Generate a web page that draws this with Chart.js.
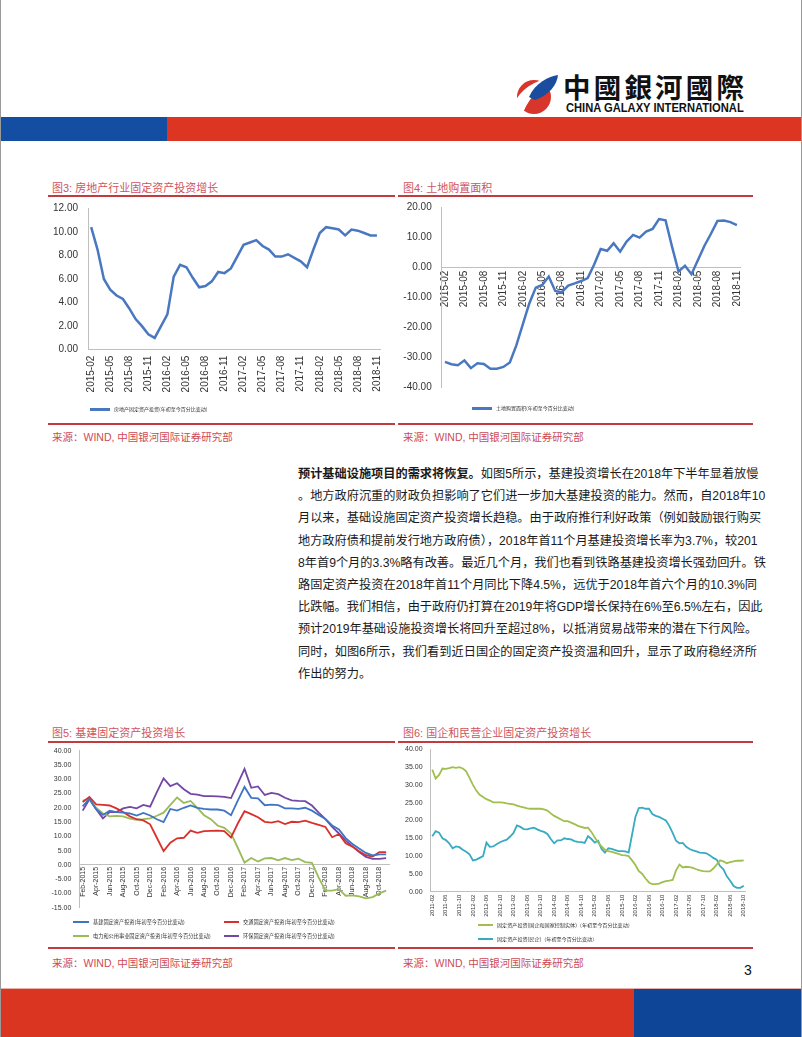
<!DOCTYPE html>
<html>
<head>
<meta charset="utf-8">
<script src="https://cdn.jsdelivr.net/npm/chart.js@4.4.1/dist/chart.umd.min.js"></script>
<style>
  body { margin: 0; background: #fff; }
  #page { position: relative; width: 802px; height: 1037px; overflow: hidden; background: #fff;
          font-family: "Liberation Sans", "Noto Sans CJK SC", sans-serif; }
  canvas { position: absolute; }
  .abs { position: absolute; white-space: nowrap; }
  .rule { position: absolute; height: 2px; background: #c23b3e; }
  .ttl { position: absolute; font-size: 11px; line-height: 14px; color: #cf5560; white-space: nowrap; }
  .src { position: absolute; font-size: 10.5px; line-height: 14px; color: #cc4b55; white-space: nowrap; }
  .lgline { position: absolute; height: 2px; }
  .lgtxt { position: absolute; font-family: "Noto Sans CJK SC", sans-serif; color: #333; white-space: nowrap; line-height: 8px; }
  #para { position: absolute; left: 298px; top: 463px; width: 459px; font-size: 12.2px; color: #1a1a1a; }
  #para div { height: 22.2px; line-height: 22.2px; white-space: nowrap; text-align: justify; text-align-last: justify; }
  #para div.last { text-align-last: left; }
</style>
</head>
<body>
<div id="page">
  <!-- header -->
  <div class="abs" style="left:0;top:0;width:1px;height:1037px;background:#9a9a9a"></div>
  <div class="abs" style="left:801px;top:0;width:1px;height:1037px;background:#9a9a9a"></div>
  <svg class="abs" style="left:513px;top:73px" width="46" height="44" viewBox="0 0 46 44">
    <circle cx="21" cy="24" r="17" fill="#d8352b"/>
    <path d="M2 30 C 8 14, 26 6, 44 3 C 32 12, 18 20, 10 40 Z" fill="#fff"/>
    <path d="M16 24 C 22 10, 36 3, 45 2 C 44 12, 36 22, 22 27 Z" fill="#1a4d9e"/>
  </svg>
  <div class="abs" style="left:563px;top:68px;font:bold 27.5px 'Noto Sans CJK TC';letter-spacing:3.2px;color:#111;line-height:36px">中國銀河國際</div>
  <div class="abs" style="left:566px;top:101px;font:bold 12px 'Liberation Sans';color:#111;transform:scaleX(0.93);transform-origin:0 0;line-height:14px">CHINA GALAXY INTERNATIONAL</div>
  <div class="abs" style="left:1px;top:117px;width:166px;height:24px;background:#134ea2"></div>
  <div class="abs" style="left:167px;top:117px;width:634px;height:24px;background:#dc3522"></div>

  <!-- chart 3 / 4 frames -->
  <div class="ttl" style="left:52px;top:181px">图3: 房地产行业固定资产投资增长</div>
  <div class="ttl" style="left:403px;top:181px">图4: 土地购置面积</div>
  <div class="rule" style="left:48px;top:195px;width:347px"></div>
  <div class="rule" style="left:398px;top:195px;width:355px"></div>
  <canvas id="c3"></canvas>
  <canvas id="c4"></canvas>
  <div id="lg3"></div>
  <div id="lg4"></div>
  <div class="rule" style="left:48px;top:423px;width:347px"></div>
  <div class="rule" style="left:398px;top:423px;width:355px"></div>
  <div class="src" style="left:52px;top:430px">来源：WIND, 中国银河国际证券研究部</div>
  <div class="src" style="left:403px;top:430px">来源：WIND, 中国银河国际证券研究部</div>

  <!-- body text -->
  <div id="para">
    <div><b>预计基础设施项目的需求将恢复。</b>如图5所示，基建投资增长在2018年下半年显着放慢</div>
    <div>。地方政府沉重的财政负担影响了它们进一步加大基建投资的能力。然而，自2018年10</div>
    <div>月以来，基础设施固定资产投资增长趋稳。由于政府推行利好政策（例如鼓励银行购买</div>
    <div>地方政府债和提前发行地方政府债），2018年首11个月基建投资增长率为3.7%，较201</div>
    <div>8年首9个月的3.3%略有改善。最近几个月，我们也看到铁路基建投资增长强劲回升。铁</div>
    <div>路固定资产投资在2018年首11个月同比下降4.5%，远优于2018年首六个月的10.3%同</div>
    <div>比跌幅。我们相信，由于政府仍打算在2019年将GDP增长保持在6%至6.5%左右，因此</div>
    <div>预计2019年基础设施投资增长将回升至超过8%，以抵消贸易战带来的潜在下行风险。</div>
    <div>同时，如图6所示，我们看到近日国企的固定资产投资温和回升，显示了政府稳经济所</div>
    <div class="last">作出的努力。</div>
  </div>

  <!-- chart 5 / 6 frames -->
  <div class="ttl" style="left:52px;top:726px">图5: 基建固定资产投资增长</div>
  <div class="ttl" style="left:403px;top:726px">图6: 国企和民营企业固定资产投资增长</div>
  <div class="rule" style="left:48px;top:741px;width:347px"></div>
  <div class="rule" style="left:398px;top:741px;width:355px"></div>
  <canvas id="c5"></canvas>
  <canvas id="c6"></canvas>
  <div id="lg5"></div>
  <div id="lg6"></div>
  <div class="rule" style="left:48px;top:947px;width:347px"></div>
  <div class="rule" style="left:398px;top:947px;width:355px"></div>
  <div class="src" style="left:52px;top:956px">来源：WIND, 中国银河国际证券研究部</div>
  <div class="src" style="left:403px;top:956px">来源：WIND, 中国银河国际证券研究部</div>
  <div class="abs" style="left:744px;top:962px;font-size:14px;color:#111">3</div>

  <!-- footer -->
  <div class="abs" style="left:1px;top:988px;width:800px;height:1px;background:#e8b0a8"></div>
  <div class="abs" style="left:1px;top:989px;width:633px;height:48px;background:#da3520"></div>
  <div class="abs" style="left:634px;top:989px;width:167px;height:48px;background:#0f4596"></div>
</div>

<script>
// ---- data ----
var MON = ['Jan', 'Feb', 'Mar', 'Apr', 'May', 'Jun', 'Jul', 'Aug', 'Sep', 'Oct', 'Nov', 'Dec'];
function monthList(y0, m0, y1, m1, en) {
    var out = [];
    var y = y0, m = m0;
    while (y < y1 || (y === y1 && m <= m1)) {
        out.push(en ? MON[m - 1] + '-' + y : y + '-' + (m < 10 ? '0' + m : m));
        m++;
        if (m > 12) { m = 1; y++; }
    }
    return out;
}

var months1518 = monthList(2015, 2, 2018, 11, false);
var months1518en = monthList(2015, 2, 2018, 11, true);
var months1118 = monthList(2011, 2, 2018, 10, false);

// 图3 房地产固定资产投资
var realEstate = [
    10.4, 8.5, 6.0, 5.1, 4.6, 4.3, 3.5, 2.6, 2.0, 1.3, 1.0,
    2.0, 3.0, 6.2, 7.2, 7.0, 6.1, 5.3, 5.4, 5.8, 6.6, 6.5, 6.9,
    7.9, 8.9, 9.1, 9.3, 8.8, 8.5, 7.9, 7.9, 8.1, 7.8, 7.5, 7.0,
    8.5, 9.9, 10.4, 10.3, 10.2, 9.7, 10.2, 10.1, 9.9, 9.7, 9.7
];

// 图4 土地购置面积
var landArea = [
    -31.5, -32.3, -32.6, -31.0, -33.6, -32.0, -32.2, -33.8, -33.8, -33.2, -31.7,
    -26.0, -19.0, -12.0, -6.7, -5.8, -3.0, -7.8, -8.2, -6.0, -5.3, -4.5, -3.5,
    1.0, 6.2, 5.6, 8.1, 5.3, 8.7, 10.9, 10.0, 12.0, 12.9, 16.2, 15.8,
    7.0, -1.3, 0.6, -2.2, 2.5, 7.3, 11.3, 15.6, 15.7, 15.2, 14.2
];

// 图5
var infraFAI = [
    20.5, 23.2, 19.5, 17.5, 19.0, 18.5, 18.3, 18.0, 17.3, 18.2, 17.3,
    16.0, 15.0, 19.6, 19.0, 20.0, 20.8, 20.0, 19.6, 19.4, 19.4, 19.0, 17.4,
    22.5, 27.3, 23.5, 23.3, 20.9, 21.1, 20.9, 19.8, 19.8, 19.6, 20.0, 19.0,
    17.5, 16.1, 13.8, 12.4, 9.4, 7.3, 5.7, 4.2, 3.3, 3.7, 3.7
];
var transportFAI = [
    22.0, 23.8, 21.2, 21.0, 20.8, 19.8, 18.5, 17.0, 16.0, 15.6, 14.2,
    9.5, 4.8, 7.8, 9.3, 9.5, 12.0, 11.2, 11.8, 11.9, 12.0, 11.8, 9.6,
    14.5, 18.8, 17.8, 16.7, 15.1, 14.8, 15.3, 14.3, 15.1, 15.0, 15.5, 14.7,
    14.0, 13.3, 9.7, 10.8, 7.6, 6.4, 4.8, 3.4, 2.9, 4.5, 4.5
];
var powerFAI = [
    22.5, 23.0, 20.0, 18.0, 17.0, 17.2, 17.0, 16.2, 15.8, 16.0, 16.3,
    17.2, 18.3, 21.0, 23.6, 21.7, 22.4, 20.0, 17.4, 16.0, 13.8, 13.0, 11.0,
    6.0, 0.8, 2.4, 1.2, 2.3, 2.4, 1.6, 2.4, 1.7, 2.2, 1.0, 0.7,
    -4.5, -9.0, -9.0, -8.5, -10.8, -10.7, -11.0, -11.7, -11.3, -10.0, -9.0
];
var envFAI = [
    19.0, 23.0, 19.5, 16.3, 18.5, 18.5, 19.8, 20.3, 19.8, 21.0, 20.4,
    25.5, 30.3, 27.6, 28.6, 26.5, 24.9, 24.6, 24.1, 24.1, 24.0, 23.8, 23.4,
    28.5, 33.6, 27.0, 27.5, 24.5, 25.2, 24.8, 23.5, 22.6, 22.4, 22.3, 20.8,
    18.3, 16.0, 13.3, 11.0, 8.5, 6.5, 4.5, 2.8, 2.1, 2.1, 2.4
];

// 图6
var soeFAI = [
    34.3, 31.8, 32.8, 34.6, 34.5, 34.7, 35.0, 34.8, 35.0, 34.6, 33.8,
    32.0, 30.0, 28.4, 27.2, 26.6, 26.0, 25.6, 25.1, 25.1, 25.1, 25.0, 24.8,
    24.7, 24.5, 24.2, 23.9, 23.7, 23.4, 23.3, 23.3, 23.3, 23.3, 23.1, 22.8,
    22.0, 21.3, 20.8, 20.3, 19.8, 19.8, 19.4, 19.0, 18.5, 18.2, 17.9, 18.0,
    16.8, 15.2, 13.8, 12.7, 11.8, 11.4, 11.2, 10.9, 10.6, 10.3, 10.2, 10.0,
    8.8, 7.5, 5.8, 5.0, 3.7, 2.6, 2.1, 2.1, 2.3, 2.7, 3.0, 3.1,
    3.3, 6.0, 7.6, 6.8, 7.0, 6.9, 6.7, 6.3, 6.0, 5.8, 5.7, 5.7,
    6.5, 7.6, 8.8, 8.5, 8.0, 8.3, 8.5, 8.7, 8.7, 8.8
];
var privateFAI = [
    15.6, 17.0, 16.6, 15.0, 14.5, 13.6, 12.2, 12.7, 12.5, 11.8, 11.2,
    10.5, 8.8, 9.0, 9.5, 10.0, 13.8, 12.6, 12.7, 13.3, 13.9, 14.3, 14.6,
    15.5, 16.5, 18.6, 18.2, 17.6, 17.5, 17.8, 18.0, 17.5, 17.1, 16.8, 16.2,
    14.8, 13.6, 14.4, 14.4, 15.0, 14.8, 14.7, 14.2, 14.0, 13.9, 13.7, 15.6,
    14.8, 13.8, 14.3, 12.0, 11.0, 12.2, 12.0, 11.7, 11.4, 11.4, 11.3, 11.0,
    16.0, 21.0, 23.5, 23.6, 23.3, 23.3, 21.8, 21.3, 21.0, 20.5, 20.0, 18.5,
    16.5, 14.3, 13.6, 13.7, 12.6, 12.0, 11.6, 11.3, 11.0, 10.9, 10.8, 10.2,
    9.5, 9.0, 7.2, 6.3, 4.3, 3.1, 1.6, 1.1, 1.1, 1.7
];

// ---- drawing ----
// area = wanted plot area on the page; the canvas is sized around it
function lineChart(id, x0, area, o) {
    var cv = document.getElementById(id);
    var edge = 0.6 * o.yFont + o.yPad + 2;   // room chart.js keeps for the end tick labels
    var y0 = Math.floor(area.t - edge);
    var w = Math.ceil(area.r + 8 - x0);
    var h = Math.ceil((o.xAtZero ? area.b + edge : area.b + o.xHeight) - y0);
    cv.width = w;
    cv.height = h;
    cv.style.left = x0 + 'px';
    cv.style.top = y0 + 'px';

    var datasets = o.series.map(function (s) {
        return {
            label: s.name, data: s.data, borderColor: s.color, backgroundColor: s.color,
            borderWidth: o.lw, pointRadius: 0, tension: 0, fill: false
        };
    });

    new Chart(cv, {
        type: 'line',
        data: { labels: o.labels, datasets: datasets },
        options: {
            responsive: false,
            animation: false,
            layout: {
                padding: {
                    left: 0,
                    top: area.t - y0,
                    right: x0 + w - area.r,
                    bottom: o.xAtZero ? y0 + h - area.b : y0 + h - area.b - o.xHeight
                }
            },
            plugins: { legend: { display: false }, tooltip: { enabled: false } },
            scales: {
                x: {
                    type: 'category',
                    offset: true,
                    position: o.xAtZero ? { y: 0 } : 'bottom',
                    grid: { display: false, drawTicks: false },
                    border: { display: true, color: '#bfbfbf', width: 1 },
                    ticks: {
                        autoSkip: false, minRotation: 90, maxRotation: 90,
                        padding: o.xPad, color: '#333',
                        font: { family: 'Liberation Sans', size: o.xFont }
                    },
                    afterBuildTicks: function (s) {
                        s.ticks = s.ticks.filter(function (t, i) { return i % o.every === 0; });
                    },
                    afterFit: function (s) { if (!o.xAtZero) s.height = o.xHeight; }
                },
                y: {
                    min: o.yMin, max: o.yMax,
                    grid: { display: false, drawTicks: false },
                    border: { display: true, color: '#bfbfbf', width: 1 },
                    ticks: {
                        stepSize: o.yStep, padding: o.yPad, color: '#333',
                        font: { family: 'Liberation Sans', size: o.yFont },
                        callback: function (v) { return Number(v).toFixed(2); }
                    },
                    afterFit: function (s) { s.width = area.l - x0; }
                }
            }
        }
    });
}

function legend(id, items) {
    var host = document.getElementById(id);
    items.forEach(function (it) {
        var ln = document.createElement('div');
        ln.className = 'lgline';
        ln.style.cssText = 'left:' + it.x + 'px;top:' + (it.y - 1) + 'px;width:' + it.w + 'px;background:' + it.s.color + ';height:' + (it.h || 2) + 'px';
        host.appendChild(ln);
        var tx = document.createElement('div');
        tx.className = 'lgtxt';
        tx.style.cssText = 'left:' + (it.x + it.w + 4) + 'px;top:' + (it.y - 4) + 'px;font-size:' + it.fs + 'px';
        tx.textContent = it.s.name;
        host.appendChild(tx);
    });
}

var sRealEstate = { name: '房地产固定资产投资(年初至今百分比变动)', data: realEstate, color: '#4a78c0' };
var sLand = { name: '土地购置面积(年初至今百分比变动)', data: landArea, color: '#4a78c0' };
var sInfra = { name: '基建固定资产投资(年初至今百分比变动)', data: infraFAI, color: '#3f74c4' };
var sTransport = { name: '交通固定资产投资(年初至今百分比变动)', data: transportFAI, color: '#d9302c' };
var sPower = { name: '电力和公用事业固定资产投资(年初至今百分比变动)', data: powerFAI, color: '#9bbb59' };
var sEnv = { name: '环保固定资产投资(年初至今百分比变动)', data: envFAI, color: '#7347a6' };
var sSoe = { name: '固定资产投资(国企和国家控制实体)（年初至今百分比变动）', data: soeFAI, color: '#9fbf4e' };
var sPrivate = { name: '固定资产投资(民企)（年初至今百分比变动）', data: privateFAI, color: '#36abc2' };

lineChart('c3', 48, { l: 88, t: 208.3, r: 386.5, b: 349.7 }, {
    labels: months1518, series: [sRealEstate], lw: 2.5, every: 3,
    xAtZero: false, xHeight: 44, xPad: 6, xFont: 10,
    yMin: 0, yMax: 12, yStep: 2, yPad: 10, yFont: 10
});
lineChart('c4', 400, { l: 441.7, t: 207.7, r: 743.3, b: 387.3 }, {
    labels: months1518, series: [sLand], lw: 2.5, every: 3,
    xAtZero: true, xPad: 3, xFont: 10,
    yMin: -40, yMax: 20, yStep: 10, yPad: 10, yFont: 10
});
lineChart('c5', 44, { l: 79.3, t: 750.7, r: 389.5, b: 907.7 }, {
    labels: months1518en, series: [sInfra, sTransport, sPower, sEnv], lw: 1.8, every: 2,
    xAtZero: true, xPad: 2, xFont: 7,
    yMin: -15, yMax: 40, yStep: 5, yPad: 8, yFont: 7
});
lineChart('c6', 400, { l: 430.6, t: 749.3, r: 745.7, b: 891.7 }, {
    labels: months1118, series: [sSoe, sPrivate], lw: 1.8, every: 4,
    xAtZero: false, xHeight: 30, xPad: 3, xFont: 6,
    yMin: 0, yMax: 40, yStep: 5, yPad: 8, yFont: 7
});

legend('lg3', [{ s: sRealEstate, x: 90, y: 409, w: 20, h: 2.5, fs: 5 }]);
legend('lg4', [{ s: sLand, x: 472, y: 408, w: 20, h: 2.5, fs: 5 }]);
legend('lg5', [
    { s: sInfra, x: 73, y: 922, w: 16, fs: 5.2 },
    { s: sTransport, x: 224, y: 922, w: 15, fs: 5.2 },
    { s: sPower, x: 73, y: 936, w: 16, fs: 5.2 },
    { s: sEnv, x: 224, y: 936, w: 15, fs: 5.2 }
]);
legend('lg6', [
    { s: sSoe, x: 478, y: 925, w: 15, fs: 5.1 },
    { s: sPrivate, x: 478, y: 939, w: 15, fs: 5.1 }
]);
</script>
</body>
</html>
